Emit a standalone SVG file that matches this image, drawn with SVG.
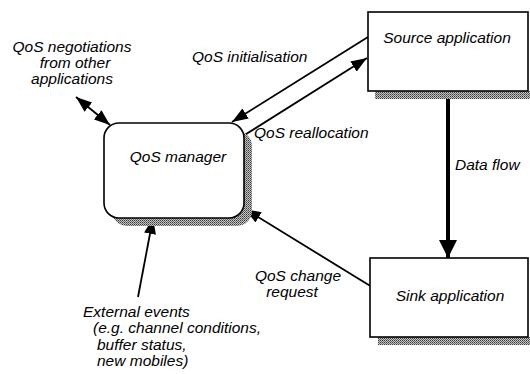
<svg xmlns="http://www.w3.org/2000/svg" width="530" height="374" viewBox="0 0 530 374">
<defs>
<pattern id="hatch" width="2" height="2" patternUnits="userSpaceOnUse">
<rect width="2" height="2" fill="#c4c4c4"/>
<rect width="1" height="1" fill="#3a3a3a"/>
<rect x="1" y="1" width="1" height="1" fill="#6a6a6a"/>
</pattern>
<marker id="ah" viewBox="0 0 16 12" refX="16" refY="6" markerWidth="16" markerHeight="12" markerUnits="userSpaceOnUse" orient="auto-start-reverse">
<path d="M0,0 L16,6 L0,12 Z" fill="#000"/>
</marker>
<marker id="ahbig" viewBox="0 0 18 18" refX="18" refY="9" markerWidth="18" markerHeight="18" markerUnits="userSpaceOnUse" orient="auto">
<path d="M0,0 L18,9 L0,18 Z" fill="#000"/>
</marker>
</defs>
<style>
text{font-family:"Liberation Sans",Arial,sans-serif;font-style:italic;font-size:15.5px;fill:#000}
.box{fill:#fff;stroke:#000;stroke-width:1.6}
.sh{fill:url(#hatch);stroke:none}
.ln{fill:none;stroke:#000;stroke-width:1.8}
</style>
<rect width="530" height="374" fill="#fff"/>

<g id="connectors">
<line class="ln" x1="368" y1="37" x2="232" y2="122" marker-end="url(#ah)"/>
<line class="ln" x1="243" y1="136" x2="367" y2="58" marker-end="url(#ah)"/>
<line class="ln" x1="372" y1="287" x2="245" y2="209" marker-end="url(#ah)"/>
<line class="ln" x1="76" y1="97" x2="110" y2="125" marker-start="url(#ah)" marker-end="url(#ah)"/>
<line class="ln" x1="138" y1="297" x2="153" y2="218" marker-end="url(#ah)"/>
<line x1="448" y1="91" x2="448" y2="258" stroke="#000" stroke-width="4" marker-end="url(#ahbig)"/>
</g>

<g id="manager">
<rect class="sh" x="112" y="131" width="140" height="95" rx="15"/>
<rect class="box" x="104" y="123" width="140" height="95" rx="15"/>
<text x="178" y="162" text-anchor="middle">QoS manager</text>
</g>

<g id="source">
<rect class="sh" x="375" y="91" width="155" height="8"/>
<rect class="box" x="368" y="12" width="160" height="79"/>
<text x="447" y="43" text-anchor="middle">Source application</text>
</g>

<g id="sink">
<rect class="sh" x="378" y="337" width="152" height="8"/>
<rect class="box" x="370" y="258" width="158" height="79"/>
<text x="450" y="301" text-anchor="middle">Sink application</text>
</g>

<g id="labels">
<text x="72" y="52" text-anchor="middle">QoS negotiations</text>
<text x="75" y="68" text-anchor="middle">from other</text>
<text x="72" y="84" text-anchor="middle">applications</text>
<text x="192" y="62">QoS initialisation</text>
<text x="254" y="138">QoS reallocation</text>
<text x="455" y="170">Data flow</text>
<text x="298" y="281" text-anchor="middle">QoS change</text>
<text x="292" y="297" text-anchor="middle">request</text>
<text x="83" y="317">External events</text>
<text x="93" y="333">(e.g. channel conditions,</text>
<text x="97" y="350">buffer status,</text>
<text x="97" y="366">new mobiles)</text>
</g>
</svg>
